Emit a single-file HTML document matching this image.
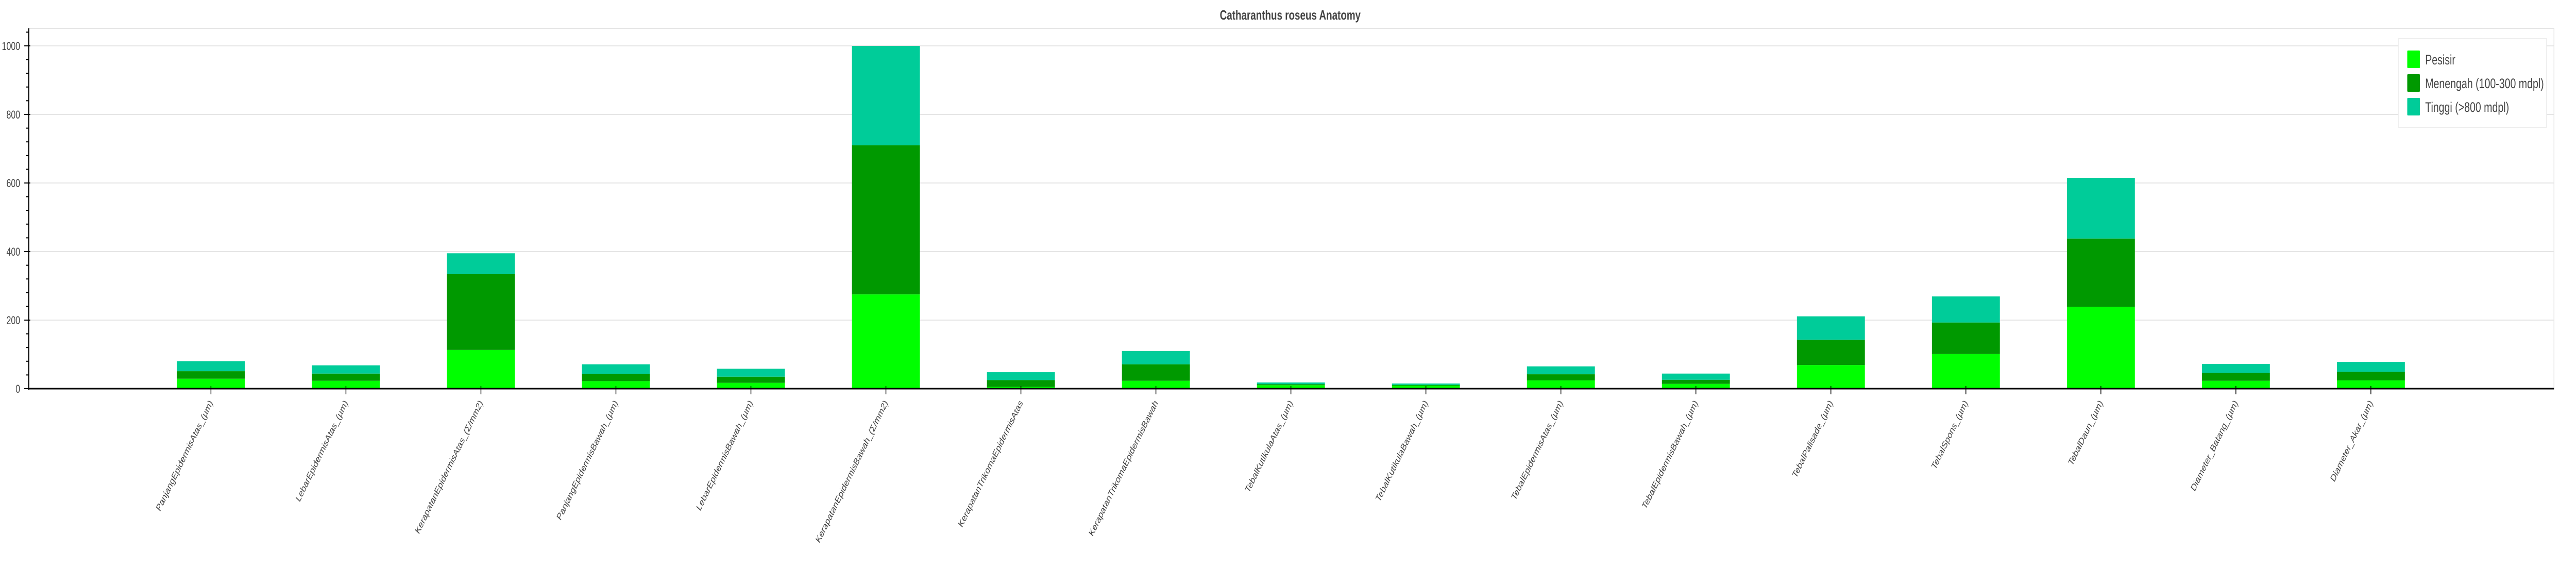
<!DOCTYPE html>
<html><head><meta charset="utf-8"><style>
html,body{margin:0;padding:0;background:#fff;width:100%;height:100%;overflow:hidden;}
svg{display:block;width:100vw;height:100vh;font-family:"Liberation Sans",Arial,sans-serif;}
</style></head><body>
<svg id="chart" viewBox="0 0 6900 1100" preserveAspectRatio="none">
<text x="3456" y="38" text-anchor="middle" font-size="26" font-weight="bold" fill="#444">Catharanthus roseus Anatomy</text>
<g id="grid"></g>
<rect x="77" y="55" width="6764" height="699" fill="none" stroke="#e5e5e5" stroke-width="2"></rect>
<g id="bars"></g>
<g id="yaxis"></g>
<g id="xaxis"></g>
<g>
<rect x="6425" y="75" width="396" height="172" fill="#fff" stroke="#eee" stroke-width="2"></rect>
<rect x="6448" y="98" width="34" height="34" fill="#00ff00" rx="2"></rect>
<text x="6496" y="125" font-size="27" fill="#444">Pesisir</text>
<rect x="6448" y="144" width="34" height="34" fill="#009900" rx="2"></rect>
<text x="6496" y="171" font-size="27" fill="#444">Menengah (100-300 mdpl)</text>
<rect x="6448" y="190" width="34" height="34" fill="#00cc99" rx="2"></rect>
<text x="6496" y="217" font-size="27" fill="#444">Tinggi (&gt;800 mdpl)</text>
</g>
</svg>
<script>
const categories = ["PanjangEpidermisAtas_(µm)","LebarEpidermisAtas_(µm)","KerapatanEpidermisAtas_(Σ/mm2)","PanjangEpidermisBawah_(µm)","LebarEpidermisBawah_(µm)","KerapatanEpidermisBawah_(Σ/mm2)","KerapatanTrikomaEpidermisAtas","KerapatanTrikomaEpidermisBawah","TebalKutikulaAtas_(µm)","TebalKutikulaBawah_(µm)","TebalEpidermisAtas_(µm)","TebalEpidermisBawah_(µm)","TebalPalisade_(µm)","TebalSpons_(µm)","TebalDaun_(µm)","Diameter_Batang_(µm)","Diameter_Akar_(µm)"];
const pesisir  = [29, 23, 113, 22, 17, 275, 5, 23, 10, 9, 24, 14, 69, 101, 239, 23, 24];
const menengah = [22, 21, 221, 21, 18, 435, 20, 48, 3, 2, 18, 12, 74, 92, 199, 23, 25];
const tinggi   = [29, 24, 61, 28, 23, 290, 23, 39, 5, 4, 23, 18, 68, 76, 177, 26, 29];
const yTicks = [0, 200, 400, 600, 800, 1000];
const yMinor = [40,80,120,160,240,280,320,360,440,480,520,560,640,680,720,760,840,880,920,960,1040];

const NS = "http://www.w3.org/2000/svg";
const X0 = 565, STEP = 361.6, BW = 182, Y0 = 754, PXU = 0.665;
function xs(i){ return X0 + STEP * i; }
function ys(v){ return Y0 - v * PXU; }
function mk(tag, attrs, parent){ const e = document.createElementNS(NS, tag); for (const k in attrs) e.setAttribute(k, attrs[k]); parent.appendChild(e); return e; }

const grid = document.getElementById('grid');
const bars = document.getElementById('bars');
const yax = document.getElementById('yaxis');
const xax = document.getElementById('xaxis');

yTicks.forEach(t => {
  if (t > 0) {
    const g = mk('line', {x1: 77, x2: 6841, y1: ys(t), y2: ys(t), stroke: '#e5e5e5', 'stroke-width': 2}, grid);
    
    
  }
  const tk = mk('line', {x1: 65, x2: 81, y1: ys(t), y2: ys(t), stroke: '#000', 'stroke-width': 2}, yax);
  
  
  const lb = mk('text', {x: 54, y: ys(t) + 8, 'text-anchor': 'end', 'font-size': 22, fill: '#444'}, yax);
  lb.textContent = t;
  
  
});
yMinor.forEach(t => {
  const tk = mk('line', {x1: 69, x2: 77, y1: ys(t), y2: ys(t), stroke: '#000', 'stroke-width': 2}, yax);
  
  
});

const series = [[pesisir, '#00ff00', 'pesisir'], [menengah, '#009900', 'menengah'], [tinggi, '#00cc99', 'tinggi']];
categories.forEach((c, i) => {
  let base = 0;
  series.forEach(([arr, col, nm]) => {
    const v = arr[i];
    const r = mk('rect', {x: xs(i) - BW/2, y: ys(base + v), width: BW, height: v * PXU, fill: col}, bars);
    
    
    base += v;
  });
  const tk = mk('line', {x1: xs(i), x2: xs(i), y1: 749, y2: 765, stroke: '#000', 'stroke-width': 2}, xax);
  
  
  const lb = mk('text', {x: xs(i) + 6, y: 782, 'text-anchor': 'end', 'font-size': 20, fill: '#444', transform: 'rotate(-56 ' + (xs(i) + 6) + ' 782)'}, xax);
  lb.textContent = c;
  
  
});
const yl = mk('line', {x1: 77, x2: 77, y1: 55, y2: 756, stroke: '#000', 'stroke-width': 3}, yax);


const xl = mk('line', {x1: 76, x2: 6841, y1: 754, y2: 754, stroke: '#000', 'stroke-width': 3}, xax);


</script>
</body></html>
